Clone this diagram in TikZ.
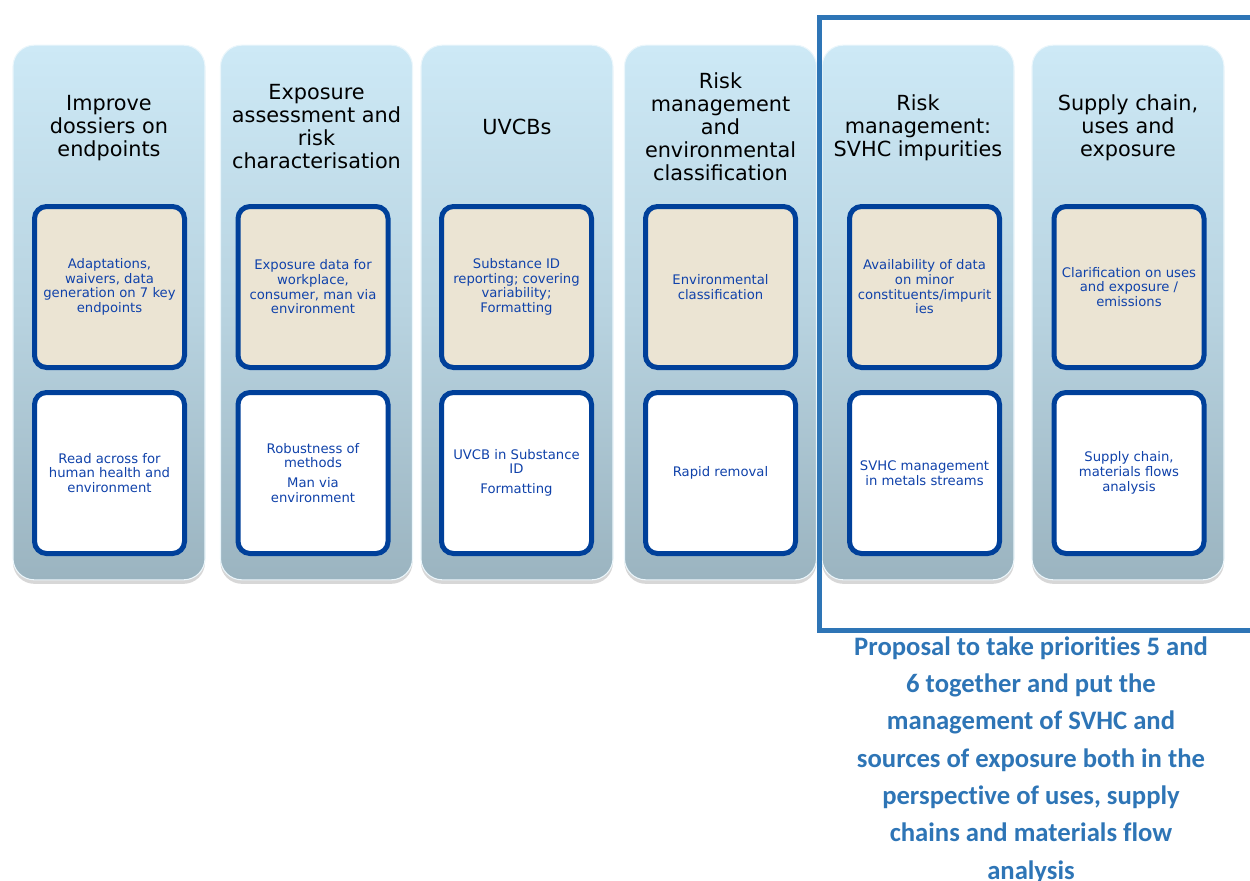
\documentclass[tikz,border=0pt]{standalone}
\usepackage{fontspec}
\setmainfont{DejaVu Sans}
\newfontfamily\proposalfont[Ligatures=NoCommon]{Carlito}
\usetikzlibrary{shadows}

\definecolor{colTop}{RGB}{205,233,246}
\definecolor{colMid}{RGB}{184,211,224}
\definecolor{colBot}{RGB}{155,180,192}
\definecolor{boxEdge}{RGB}{0,64,154}
\definecolor{boxTan}{RGB}{235,228,211}
\definecolor{boxText}{RGB}{16,66,170}
\definecolor{frameBlue}{RGB}{46,117,182}

\begin{document}
\begin{tikzpicture}[x=0.75pt,y=-0.75pt,
    column/.style={rectangle, rounded corners=16pt, draw=white!60!colTop, line width=0.8pt,
        top color=colTop, bottom color=colBot, middle color=colMid,
        minimum width=144pt, minimum height=401pt,
        drop shadow={shadow xshift=0pt, shadow yshift=-3pt, opacity=0.35, fill=black!45}},
    title/.style={align=center, font=\fontsize{15.6}{17.25}\selectfont, text=black},
    cell/.style={rectangle, rounded corners=9pt, draw=boxEdge, line width=3.75pt,
        minimum width=112.5pt, minimum height=120.75pt, align=center, text=boxText,
        font=\fontsize{9.9}{11}\selectfont},
    tancell/.style={cell, fill=boxTan},
    whitecell/.style={cell, fill=white}]
\useasboundingbox (0,0) rectangle (1250,881);

% columns
\node[column] (col1) at (109,312.5) {};
\node[column] (col2) at (316.5,312.5) {};
\node[column] (col3) at (517,312.5) {};
\node[column] (col4) at (720.5,312.5) {};
\node[column] (col5) at (918,312.5) {};
\node[column] (col6) at (1128,312.5) {};

% titles
\node[title] (title1) at (109,128) {Improve\\dossiers on\\endpoints};
\node[title] (title2) at (316.5,127) {Exposure\\assessment and\\risk\\characterisation};
\node[title] (title3) at (517,127) {UVCBs};
\node[title] (title4) at (720.5,127) {Risk\\management\\and\\environmental\\classification};
\node[title] (title5) at (918,128) {Risk\\management:\\SVHC impurities};
\node[title] (title6) at (1128,128) {Supply chain,\\uses and\\exposure};

% upper boxes
\node[tancell] (top1) at (109.5,287) {Adaptations,\\waivers, data\\generation on 7 key\\endpoints};
\node[tancell] (top2) at (313,287) {Exposure data for\\workplace,\\consumer, man via\\environment};
\node[tancell] (top3) at (516.5,287) {Substance ID\\reporting; covering\\variability;\\Formatting};
\node[tancell] (top4) at (720.5,287) {Environmental\\classification};
\node[tancell] (top5) at (924.5,287) {Availability of data\\on minor\\constituents/impurit\\ies};
\node[tancell] (top6) at (1129,287) {Clarification on uses\\and exposure /\\emissions};

% lower boxes
\node[whitecell] (low1) at (109.5,473) {Read across for\\human health and\\environment};
\node[whitecell] (low2) at (313,473) {Robustness of\\methods\\[4pt]Man via\\environment};
\node[whitecell] (low3) at (516.5,473) {UVCB in Substance\\ID\\[4pt]Formatting};
\node[whitecell] (low4) at (720.5,473) {Rapid removal};
\node[whitecell] (low5) at (924.5,473) {SVHC management\\in metals streams};
\node[whitecell] (low6) at (1129,473) {Supply chain,\\materials flows\\analysis};

% frame round priorities 5 and 6
\draw[frameBlue, line width=3.75pt] (1262,17.5) -| (819.5,630) -- (1262,630);

\node[align=center, text=frameBlue, font=\proposalfont\bfseries\fontsize{20}{28}\selectfont] (proposal) at (1031,760)
    {Proposal to take priorities 5 and\\6 together and put the\\management of SVHC and\\sources of exposure both in the\\perspective of uses, supply\\chains and materials flow\\analysis};
\end{tikzpicture}
\end{document}
